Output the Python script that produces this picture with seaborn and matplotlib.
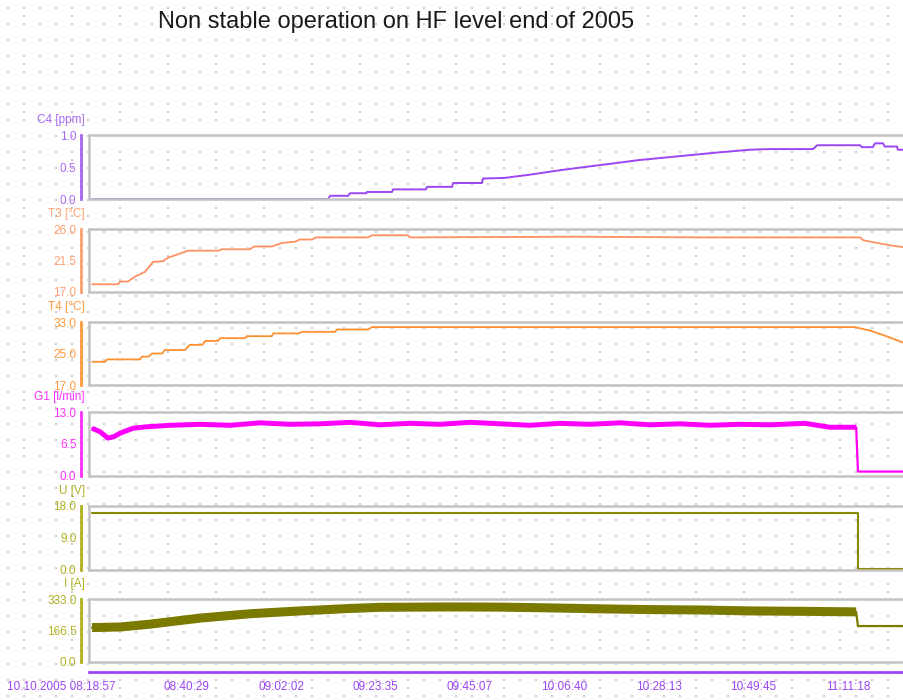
import numpy as np
import matplotlib
matplotlib.use("Agg")
import matplotlib.pyplot as plt
import matplotlib.transforms as mtransforms
import seaborn as sns

# time axis (minutes after 10.10.2005 08:18:57)
TICK_LABELS = ["10.10.2005 08:18:57", "08:40:29", "09:02:02", "09:23:35", "09:45:07",
               "10:06:40", "10:28:13", "10:49:45", "11:11:18"]
T_END = 185.1
DROP_T = 174.6   # end of the noisy part (shutdown)

c4_t = [0, 53.8, 54.3, 58.4, 58.8, 62.5, 62.7, 68.4, 68.6, 76.1, 76.4, 82.1, 82.3, 88.9, 89.1,
        94.1, 99.8, 106.7, 111.2, 115.8, 120.4, 124.9, 129.5, 134.0, 138.6, 143.1, 150.0, 154.5,
        164.4, 165.3, 175.1, 175.5, 178.0, 178.5, 180.3, 180.7, 183.5, 183.7, 185.1]
c4_v = [0, 0, 0.05, 0.05, 0.09, 0.09, 0.11, 0.11, 0.15, 0.15, 0.19, 0.19, 0.25, 0.25, 0.32,
        0.33, 0.38, 0.45, 0.49, 0.53, 0.57, 0.61, 0.64, 0.67, 0.70, 0.73, 0.77, 0.78,
        0.78, 0.84, 0.84, 0.81, 0.81, 0.87, 0.87, 0.82, 0.82, 0.77, 0.77]

t3_t = [0, 5.9, 6.4, 8.2, 9.8, 12.1, 13.9, 16.2, 17.3, 19.6, 21.9, 28.7, 29.6, 36.0, 36.9,
        41.0, 43.3, 46.3, 47.4, 50.1, 51.0, 62.9, 63.8, 72.0, 72.5, 110.0, 140.0, 175.1,
        175.8, 179.0, 182.6, 185.1]
t3_v = [18.1, 18.1, 18.5, 18.5, 19.2, 19.9, 21.3, 21.4, 21.9, 22.4, 22.9, 22.9, 23.1, 23.1, 23.5,
        23.5, 24.0, 24.2, 24.5, 24.5, 24.8, 24.8, 25.1, 25.1, 24.8, 24.9, 24.8, 24.8,
        24.4, 24.0, 23.6, 23.4]

t4_t = [0, 3.0, 3.4, 10.9, 11.4, 12.8, 13.7, 16.0, 16.6, 21.2, 22.3, 25.1, 25.8, 28.7, 29.2,
        34.9, 35.3, 41.0, 41.3, 47.0, 47.9, 55.4, 55.8, 62.9, 63.8, 173.9, 177.4, 180.8, 185.1]
t4_v = [22.9, 22.9, 23.5, 23.5, 24.2, 24.2, 25.0, 25.0, 25.9, 25.9, 27.2, 27.2, 28.2, 28.2, 28.9,
        28.9, 29.4, 29.4, 30.1, 30.1, 30.5, 30.5, 31.1, 31.1, 31.7, 31.7, 30.8, 29.5, 27.7]

g1_t = [0, 1.8, 3.6, 5.0, 6.4, 9.3, 12.5, 17.8, 24.6, 31.5, 38.3, 45.1, 52.0, 58.8, 65.6, 72.5,
        79.3, 86.2, 93.0, 99.8, 106.7, 113.5, 120.4, 127.2, 134.0, 140.9, 147.7, 154.5, 162.5,
        168.2, 174.2, 174.6, 185.1]
g1_v = [9.7, 9.0, 7.7, 8.0, 8.7, 9.7, 10.0, 10.3, 10.5, 10.3, 10.8, 10.5, 10.6, 10.9, 10.4, 10.7,
        10.5, 10.9, 10.6, 10.3, 10.7, 10.5, 10.8, 10.4, 10.6, 10.3, 10.5, 10.4, 10.7,
        9.9, 9.9, 0.9, 0.9]

u_t = [0, 174.6, 174.6, 185.1]
u_v = [16.1, 16.1, 0.2, 0.2]

i_t = [0, 6.4, 13.2, 24.6, 36.0, 47.4, 58.8, 65.6, 81.6, 93.0, 104.4, 115.8, 127.2, 138.6,
       150.0, 161.4, 174.2, 174.6, 185.1]
i_v = [182, 185, 200, 232, 255, 270, 283, 289, 291, 290, 286, 281, 277, 275,
       270, 268, 265, 190, 190]

# name, times, values, colour, axis colour, y range, line width
panels = [
    ("C4 [ppm]", c4_t, c4_v, "#9b45f5", "#a866f0", (0.0, 1.0), 1.4),
    ("T3 [°C]", t3_t, t3_v, "#ff9060", "#ffa070", (17.0, 26.0), 1.3),
    ("T4 [°C]", t4_t, t4_v, "#ff9030", "#ff9a40", (17.0, 33.0), 1.3),
    ("G1 [l/min]", g1_t, g1_v, "#ff00ff", "#ff30ff", (0.0, 13.0), 3.6),
    ("U [V]", u_t, u_v, "#8a8a00", "#b0b020", (0.0, 18.0), 1.5),
    ("I [A]", i_t, i_v, "#7a7a00", "#b0b020", (0.0, 333.0), 6.5),
]
thick = {"G1 [l/min]", "I [A]"}

# pixel layout (top, bottom) of the panels
tops = [135, 229, 322, 412, 506, 599]
bots = [199, 292, 385, 476, 570, 662]
W, H = 904, 700
LEFT = 89

sns.set_style("white")
plt.rcParams["font.family"] = ["Liberation Sans", "DejaVu Sans"]

fig = plt.figure(figsize=(W / 100, H / 100), dpi=100)

# dotted background
bg = fig.add_axes([0, 0, 1, 1], zorder=-10)
bg.set_xlim(0, W)
bg.set_ylim(H, 0)
bg.axis("off")
gx, gy = np.meshgrid(np.arange(8, W, 16), np.arange(8, H, 16))
bg.scatter(gx.ravel(), gy.ravel(), s=1.0, marker="s", color="#cccccc", linewidths=0)
gx, gy = np.meshgrid(np.arange(24, W, 48), np.arange(16, H, 48))
bg.scatter(gx.ravel(), gy.ravel(), s=4, marker="s", color="#c6c6c6", linewidths=0)

fig.text(396 / W, 1 - 22 / H, "Non stable operation on HF level end of 2005",
         ha="center", va="center", fontsize=17, color="#1a1a1a")

tick_min = []
for lab in TICK_LABELS:
    hh, mm, ss = [int(p) for p in lab[-8:].split(":")]
    tick_min.append(hh * 60 + mm + ss / 60)
tick_min = [m - tick_min[0] for m in tick_min]

gray = "#c2c2c2"
for k, (name, t, v, col, acol, (lo, hi), lw) in enumerate(panels):
    ax = fig.add_axes([LEFT / W, 1 - bots[k] / H, (W - LEFT) / W, (bots[k] - tops[k]) / H])
    ax.patch.set_alpha(0)
    if name in thick:
        sns.lineplot(x=t, y=v, ax=ax, color=col, lw=1.6, estimator=None, sort=False)
        tt = [a for a in t if a < DROP_T]
        vv = v[:len(tt)]
        sns.lineplot(x=tt, y=vv, ax=ax, color=col, lw=lw, estimator=None, sort=False,
                     solid_capstyle="butt")
    else:
        sns.lineplot(x=t, y=v, ax=ax, color=col, lw=lw, estimator=None, sort=False)
    ax.set_xlim(-0.7, T_END)
    ax.set_ylim(lo, hi)
    ax.set_xlabel("")
    ax.set_ylabel("")
    ax.set_yticks([lo, (lo + hi) / 2, hi])
    ax.set_yticklabels([f"{y:.1f}" for y in [lo, (lo + hi) / 2, hi]])
    ax.tick_params(axis="y", colors=acol, labelsize=8.5, length=0, pad=3)
    ax.spines["left"].set_position(("outward", 6))
    ax.spines["left"].set_color(acol)
    ax.spines["left"].set_linewidth(2.0)
    ax.spines["right"].set_visible(False)
    ax.spines["top"].set_color(gray)
    ax.spines["top"].set_linewidth(1.8)
    ax.plot([0, 0], [0, 1], transform=ax.transAxes, color=gray, lw=1.8, clip_on=False)
    ax.annotate(name, xy=(0, 1), xycoords="axes fraction", xytext=(-4, 15),
                textcoords="offset pixels", ha="right", va="center",
                fontsize=8.5, color=acol)
    if k < len(panels) - 1:
        ax.spines["bottom"].set_color(gray)
        ax.spines["bottom"].set_linewidth(1.8)
        ax.tick_params(axis="x", bottom=False, labelbottom=False)
    else:
        ax.plot([0, 1], [0, 0], transform=ax.transAxes, color=gray, lw=1.8, clip_on=False)
        ax.spines["bottom"].set_position(("outward", 7))
        ax.spines["bottom"].set_color("#9b45f5")
        ax.spines["bottom"].set_linewidth(2.0)
        ax.set_xticks(tick_min)
        ax.set_xticklabels(TICK_LABELS)
        ax.tick_params(axis="x", colors="#9b45f5", labelsize=8.5, length=0, pad=7)
        first = ax.get_xticklabels()[0]
        first.set_ha("right")
        first.set_transform(first.get_transform() +
                            mtransforms.ScaledTranslation(0.24, 0, fig.dpi_scale_trans))

fig.savefig("out.png", dpi=100)
